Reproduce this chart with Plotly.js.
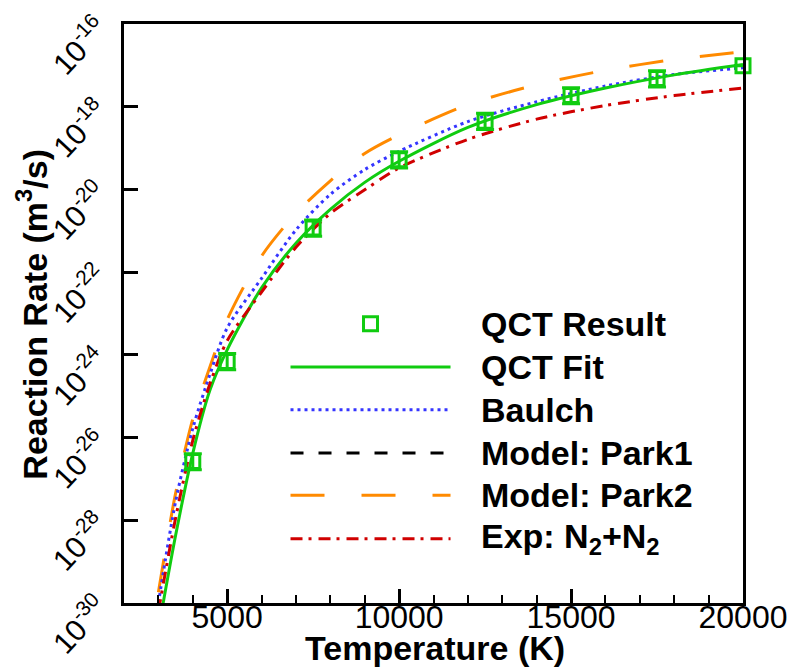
<!DOCTYPE html>
<html>
<head>
<meta charset="utf-8">
<script src="https://cdn.plot.ly/plotly-3.0.1.min.js"></script>
<style>
html,body{margin:0;padding:0;background:#fff;}
#chart{width:796px;height:671px;}
</style>
</head>
<body>
<div id="chart"></div>
<script>
// ---------------- data ----------------
const temperature = [3000, 3500, 4000, 4500, 5000, 6000, 7000, 8000, 9000, 10000, 12000, 14000, 16000, 18000, 20000];
const qctFit   = [2.24e-31, 4.27e-29, 4.17e-27, 1.41e-25, 1.32e-24, 4.17e-23, 5.01e-22, 3.31e-21, 1.48e-20, 4.79e-20, 3.16e-19, 1.12e-18, 2.82e-18, 5.89e-18, 1.05e-17];
const baulch   = [1.00e-30, 2.82e-28, 1.66e-26, 3.39e-25, 4.47e-24, 7.08e-23, 1.05e-21, 7.59e-21, 3.02e-20, 8.32e-20, 4.37e-19, 1.32e-18, 3.16e-18, 6.03e-18, 8.71e-18];
const park2    = [1.82e-30, 4.47e-28, 2.82e-26, 5.13e-25, 7.08e-24, 2.45e-22, 2.63e-21, 1.62e-20, 7.41e-20, 2.09e-19, 1.12e-18, 3.39e-18, 7.59e-18, 1.38e-17, 2.14e-17];
const expN2N2  = [6.31e-31, 1.12e-28, 8.51e-27, 2.00e-25, 2.19e-24, 3.31e-23, 3.98e-22, 2.63e-21, 9.77e-21, 3.31e-20, 1.62e-19, 5.01e-19, 1.07e-18, 1.86e-18, 2.82e-18];
const park1    = [];   // not visible inside the plotted range of the reference

const qctTemperature = [4000, 5000, 7500, 10000, 12500, 15000, 17500, 20000];
const qctResult      = [2.63e-27, 6.92e-25, 1.17e-21, 5.25e-20, 4.47e-19, 1.86e-18, 4.79e-18, 9.77e-18];
const qctErrHi       = [0.55, 0.55, 0.55, 0.55, 0.55, 0.55, 0.55, 0];   // relative
const qctErrLo       = [0.37, 0.37, 0.37, 0.37, 0.37, 0.37, 0.37, 0];   // relative

const xTickVals = [5000, 10000, 15000, 20000];
const yTickVals = [1e-30, 1e-28, 1e-26, 1e-24, 1e-22, 1e-20, 1e-18, 1e-16];
const yTickText = ['10<sup>-30</sup>', '10<sup>-28</sup>', '10<sup>-26</sup>', '10<sup>-24</sup>',
                   '10<sup>-22</sup>', '10<sup>-20</sup>', '10<sup>-18</sup>', '10<sup>-16</sup>'];
const legendLabels = ['QCT Result', 'QCT Fit', 'Baulch', 'Model: Park1', 'Model: Park2', 'Exp: N<sub>2</sub>+N<sub>2</sub>'];
const xTitle = 'Temperature (K)';
const yTitle = 'Reaction Rate (m<sup>3</sup>/s)';

// ---------------- styles ----------------
const FONT = 'Liberation Sans, Arial, Helvetica, sans-serif';
const C_GREEN = '#10cc10', C_BLUE = '#3535ff', C_BLACK = '#000000', C_ORANGE = '#ff8a00', C_RED = '#d00000';
const styles = [
  {kind: 'marker'},
  {color: C_GREEN,  dash: 'solid'},
  {color: C_BLUE,   dash: '3px,4px'},
  {color: C_BLACK,  dash: '13px,15px'},
  {color: C_ORANGE, dash: '34px,37px'},
  {color: C_RED,    dash: '12px,6px,3px,7px'}
];

// legend placement (fractions of the plot area)
const legX0 = 0.269, legX1 = 0.5275, legTextX = 0.573;
const legRowY = [0.4825, 0.4077, 0.3339, 0.2591, 0.1859, 0.1111];
// rotated y tick label placement
const yLabX = -0.0735, yLabShift = -21, yLabAngle = -47;

const traces = [];
function curve(x, y, st, name) {
  return {x: x, y: y, type: 'scatter', mode: 'lines', name: name, showlegend: false,
          line: {color: st.color, width: 3, dash: st.dash, shape: 'spline', smoothing: 0.8},
          hoverinfo: 'skip'};
}
traces.push(curve(temperature, park2, styles[4], 'Model: Park2'));
traces.push(curve(temperature, park1, styles[3], 'Model: Park1'));
traces.push(curve(temperature, baulch, styles[2], 'Baulch'));
traces.push(curve(temperature, qctFit, styles[1], 'QCT Fit'));
traces.push(curve(temperature, expN2N2, styles[5], 'Exp: N2+N2'));
traces.push({
  x: qctTemperature, y: qctResult, type: 'scatter', mode: 'markers', name: 'QCT Result', showlegend: false,
  marker: {symbol: 'square-open', size: 14, color: C_GREEN, line: {width: 3, color: C_GREEN}},
  error_y: {type: 'data', symmetric: false,
            array: qctResult.map((v, i) => v * qctErrHi[i]),
            arrayminus: qctResult.map((v, i) => v * qctErrLo[i]),
            color: C_GREEN, thickness: 3, width: 9},
  cliponaxis: false
});

// custom legend: sample lines / marker as paper shapes, labels as annotations
const annotations = [];
const shapes = [];
legendLabels.forEach((lab, i) => {
  const st = styles[i];
  if (st.kind === 'marker') {
    shapes.push({type: 'rect', xref: 'paper', yref: 'paper', xsizemode: 'pixel', ysizemode: 'pixel',
      xanchor: (legX0 + legX1) / 2, yanchor: legRowY[i], x0: -7, x1: 7, y0: -7, y1: 7,
      line: {color: C_GREEN, width: 3}, fillcolor: 'rgba(0,0,0,0)'});
  } else {
    shapes.push({type: 'line', xref: 'paper', yref: 'paper', x0: legX0, x1: legX1, y0: legRowY[i], y1: legRowY[i],
      line: {color: st.color, width: 3, dash: st.dash}});
  }
  annotations.push({xref: 'paper', yref: 'paper', x: legTextX, y: legRowY[i], xanchor: 'left', yanchor: 'middle',
    text: lab, showarrow: false, font: {family: FONT, size: 34, color: '#000', weight: 'bold'}});
});

// rotated y tick labels, positioned on the y axis scale
yTickVals.forEach((v, i) => {
  annotations.push({xref: 'paper', yref: 'y', x: yLabX, y: Math.log10(v), yshift: yLabShift,
    xanchor: 'center', yanchor: 'middle', textangle: yLabAngle, text: yTickText[i], showarrow: false,
    font: {family: FONT, size: 30, color: '#000'}});
});

// axis titles placed as annotations for exact positioning
annotations.push({xref: 'paper', yref: 'paper', x: 0.503, y: -0.0785, xanchor: 'center', yanchor: 'middle',
  text: xTitle, showarrow: false, font: {family: FONT, size: 34, color: '#000', weight: 'bold'}});
annotations.push({xref: 'paper', yref: 'paper', x: -0.1486, y: 0.498, xanchor: 'center', yanchor: 'middle',
  textangle: -90, text: yTitle, showarrow: false, font: {family: FONT, size: 34, color: '#000', weight: 'bold'}});

const layout = {
  width: 796, height: 671,
  margin: {l: 124, r: 53, t: 24, b: 68, pad: 0},
  paper_bgcolor: '#fff', plot_bgcolor: '#fff',
  showlegend: false,
  font: {family: FONT, color: '#000'},
  xaxis: {
    type: 'linear', range: [2000, 20000], tickvals: xTickVals, ticktext: xTickVals.map(String),
    showline: true, linewidth: 3, linecolor: '#000', mirror: true, showgrid: false, zeroline: false,
    ticks: 'inside', ticklen: 14, tickwidth: 3, tickcolor: '#000',
    tickfont: {family: FONT, size: 32, color: '#000'},
    ticklabelstandoff: -16,
    minor: {dtick: 1000, tick0: 0, ticks: 'inside', ticklen: 8, tickwidth: 2, tickcolor: '#000', showgrid: false}
  },
  yaxis: {
    type: 'log', range: [-30, -16], tickmode: 'array', tickvals: yTickVals, ticktext: yTickVals.map(() => ''),
    showticklabels: true,
    showline: true, linewidth: 3, linecolor: '#000', mirror: true, showgrid: false, zeroline: false,
    ticks: 'inside', ticklen: 14, tickwidth: 3, tickcolor: '#000'
  },
  shapes: shapes,
  annotations: annotations
};

Plotly.newPlot('chart', traces, layout, {staticPlot: true, displayModeBar: false});
</script>
</body>
</html>
